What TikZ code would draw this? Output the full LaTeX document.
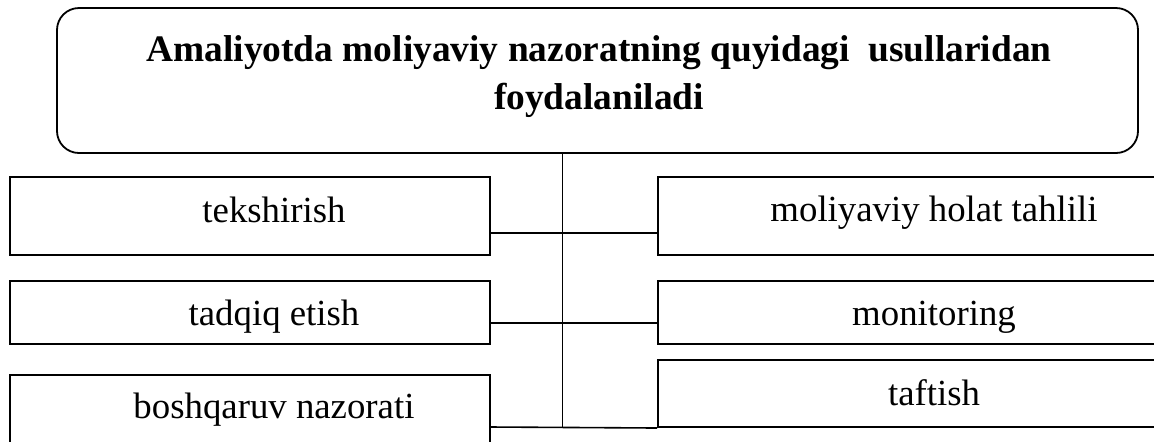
\documentclass[tikz,border=0pt]{standalone}
\usepackage{fontspec}
\setmainfont{Liberation Serif}
\begin{document}
\begin{tikzpicture}[x=0.5pt,y=-0.5pt,
  box/.style={draw,line width=1pt,rectangle,inner sep=0pt},
  lbl/.style={anchor=base,inner sep=0pt,font=\fontsize{18.4}{21}\selectfont},
  conn/.style={line width=0.8pt}]
\useasboundingbox (0,0) rectangle (1154,441);
\clip (0,0) rectangle (1154,441);
% top box
\node[draw,line width=0.9pt,rounded corners=11pt,inner sep=0pt,
      minimum width=540.5pt,minimum height=72.5pt] (top) at (597.5,80.5) {};
\node[align=center,inner sep=0pt,font=\fontsize{18.7}{24}\selectfont\bfseries] (title) at (599,77)
  {Amaliyotda moliyaviy nazoratning quyidagi\ \ usullaridan\\foydalaniladi};
% left boxes
\node[box,minimum width=240pt,minimum height=39pt] (l1) at (250,216) {};
\node[box,minimum width=240pt,minimum height=31.5pt] (l2) at (250,312.5) {};
\node[box,minimum width=240pt,minimum height=50pt] (l3) at (250,425) {};
\node[lbl] (t1) at (274,222) {tekshirish};
\node[lbl] (t2) at (274,325) {tadqiq etish};
\node[lbl] (t3) at (274,418) {boshqaruv nazorati};
% right boxes
\node[box,minimum width=276pt,minimum height=39pt] (r1) at (934,216) {};
\node[box,minimum width=276pt,minimum height=31.5pt] (r2) at (934,312.5) {};
\node[box,minimum width=276pt,minimum height=33.5pt] (r3) at (934,393.5) {};
\node[lbl] (u1) at (934,221) {moliyaviy holat tahlili};
\node[lbl] (u2) at (934,325) {monitoring};
\node[lbl] (u3) at (934,405) {taftish};
% connectors
\coordinate (trunkend) at (562.5,427);
\draw[conn] (top.south -| trunkend) -- (trunkend);
\draw[conn] (l1.east |- 0,233) -- (r1.west |- 0,233);
\draw[conn] (l2.east |- 0,323) -- (r2.west |- 0,323);
\draw[conn] (l3.east |- trunkend) -- (r3.south west);
\end{tikzpicture}
\end{document}
